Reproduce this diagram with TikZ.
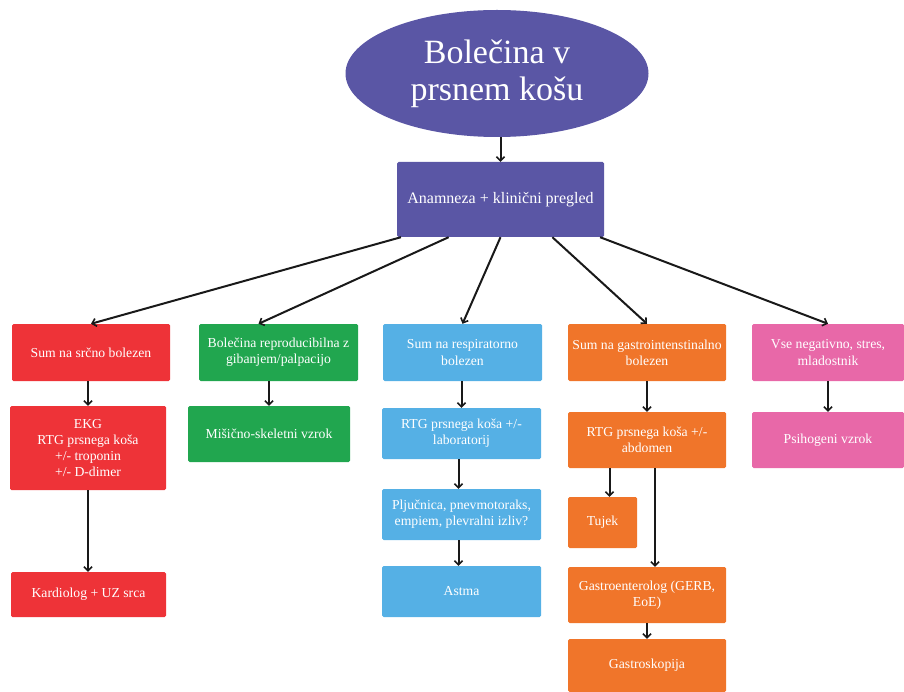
\documentclass[tikz,border=0pt]{standalone}
\usepackage{fontspec}
\setmainfont{Liberation Serif}
\usetikzlibrary{shapes.geometric,arrows.meta,calc}
\definecolor{cpurple}{HTML}{5A56A5}
\definecolor{cred}{HTML}{EE3338}
\definecolor{cgreen}{HTML}{21A64F}
\definecolor{cblue}{HTML}{55B0E5}
\definecolor{corange}{HTML}{F0752A}
\definecolor{cpink}{HTML}{E868A8}
\tikzset{
  box/.style={rectangle, rounded corners=1.5pt, text=white, align=center, inner sep=2pt,
    font=\fontsize{13.7}{16.3}\selectfont},
  arr/.style={draw=black!90, line width=2pt, -{Straight Barb[length=4pt,width=8pt,line width=1.6pt]}},
  fan/.style={draw=black!90, line width=2pt, -{Straight Barb[length=4pt,width=8pt,line width=1.6pt]}},
}
\newcommand{\bx}[7]{% name, color, x1, y1, x2, y2, text
  \node[box, fill=#2, minimum width={#5-#3}, minimum height={#6-#4}] (#1) at ({(#3+#5)/2},{(#4+#6)/2}) {#7};}
\begin{document}
\begin{tikzpicture}[x=1pt,y=-1pt]
\useasboundingbox (0,0) rectangle (904,692);
\node[ellipse, fill=cpurple, text=white, minimum width=303, minimum height=127, inner sep=0,
  align=center, font=\fontsize{34}{37}\selectfont] (ell) at (497,73.5) {Bolečina v\\prsnem košu};
\node[box, fill=cpurple, minimum width=207, minimum height=75, font=\fontsize{16}{19}\selectfont]
  (anam) at (500.5,199.5) {Anamneza + klinični pregled};
\bx{r1}{cred}{12}{324}{170}{381}{Sum na srčno bolezen}
\bx{g1}{cgreen}{199}{324}{358}{381}{Bolečina reproducibilna z\\gibanjem/palpacijo}
\bx{b1}{cblue}{383}{324}{542}{381}{Sum na respiratorno\\bolezen}
\bx{o1}{corange}{568}{324}{726}{381}{Sum na gastrointenstinalno\\bolezen}
\bx{p1}{cpink}{752}{324}{904}{381}{Vse negativno, stres,\\mladostnik}
\bx{r2}{cred}{10}{406}{166}{490}{EKG\\RTG prsnega koša\\+/- troponin\\+/- D-dimer}
\bx{g2}{cgreen}{188}{406}{350}{462}{Mišično-skeletni vzrok}
\bx{b2}{cblue}{382}{408}{541}{459}{RTG prsnega koša +/-\\laboratorij}
\bx{o2}{corange}{568}{412}{726}{468}{RTG prsnega koša +/-\\abdomen}
\bx{p2}{cpink}{752}{412}{904}{468}{Psihogeni vzrok}
\bx{b3}{cblue}{382}{489}{541}{540}{Pljučnica, pnevmotoraks,\\empiem, plevralni izliv?}
\bx{tj}{corange}{568}{497}{637}{548}{Tujek}
\bx{b4}{cblue}{382}{566}{541}{617}{Astma}
\bx{r3}{cred}{11}{572}{166}{617}{Kardiolog + UZ srca}
\bx{o3}{corange}{568}{567}{726}{623}{Gastroenterolog (GERB,\\EoE)}
\bx{o4}{corange}{568}{639}{726}{692}{Gastroskopija}
% connectors
\draw[arr] (ell.south -| anam.north) -- (anam.north);
\draw[fan] ($(anam.south west)!0.02!(anam.south east)$) -- (r1.north);
\draw[fan] ($(anam.south west)!0.25!(anam.south east)$) -- ($(g1.north)+(-20,0)$);
\draw[fan] ($(anam.south west)!0.5!(anam.south east)$) -- (b1.north);
\draw[fan] ($(anam.south west)!0.75!(anam.south east)$) -- (o1.north);
\draw[fan] ($(anam.south west)!0.98!(anam.south east)$) -- (p1.north);
\draw[arr] (r1.south -| r2.north) -- (r2.north);
\draw[arr] (g1.south -| g2.north) -- (g2.north);
\draw[arr] (b1.south -| b2.north) -- (b2.north);
\coordinate (b3x) at ($(b3.north)+(-3,0)$);
\draw[arr] (b2.south -| b3x) -- (b3x);
\coordinate (b4x) at ($(b4.north)+(-3,0)$);
\draw[arr] (b3.south -| b4x) -- (b4x);
\draw[arr] (o1.south -| o2.north) -- (o2.north);
\coordinate (tjx) at ($(tj.north)+(7,0)$);
\draw[arr] (o2.south -| tjx) -- (tjx);
\coordinate (o3x) at ($(o3.north)+(8,0)$);
\draw[arr] (o2.south -| o3x) -- (o3x);
\draw[arr] (o3.south) -- (o4.north);
\draw[arr] (r2.south) -- (r2.south |- r3.north);
\draw[arr] (p1.south) -- (p2.north);
\end{tikzpicture}
\end{document}
